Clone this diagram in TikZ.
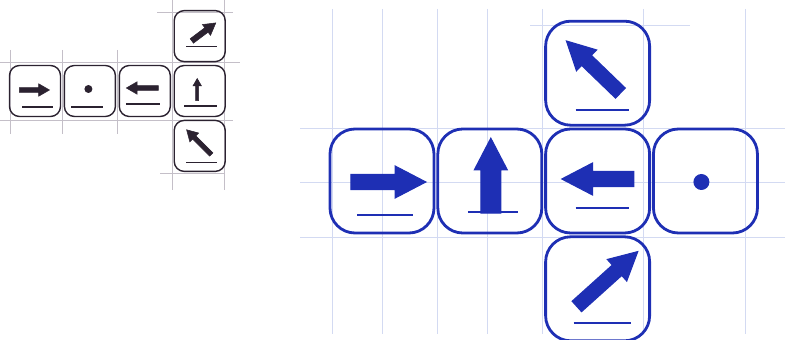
\documentclass[tikz,border=0pt]{standalone}
\usetikzlibrary{shapes.arrows, positioning}
\definecolor{InkBlue}{HTML}{1E2FB4}
\definecolor{InkDark}{HTML}{2B2230}
\definecolor{GridBlue}{HTML}{D3DAF2}
\definecolor{GridGray}{HTML}{C4BFC8}

\begin{document}
\begin{tikzpicture}[node distance=0.02cm,
        face/.style={rectangle, draw=InkBlue, line width=1.6pt, rounded corners=0.5cm, minimum size=2.08cm, inner sep=0pt},
        smallface/.style={rectangle, draw=InkDark, line width=0.8pt, rounded corners=0.2cm, minimum size=1.02cm, inner sep=0pt},
        blockarrow/.style={single arrow, draw=InkBlue, fill=InkBlue, line width=0.6pt, inner xsep=0pt, inner ysep=0.14cm, single arrow head extend=0.17cm, single arrow tip angle=55, minimum height=1.5cm, anchor=tip},
        smallarrow/.style={single arrow, draw=InkDark, fill=InkDark, line width=0.3pt, inner xsep=0pt, inner ysep=0.04cm, single arrow head extend=0.08cm, single arrow tip angle=60, minimum height=0.6cm, anchor=tip},
        bigline/.style={InkBlue, line width=1.4pt},
        smallline/.style={InkDark, line width=0.8pt},
        pip/.style={circle, fill=InkBlue, minimum size=0.32cm, inner sep=0pt},
        smallpip/.style={circle, fill=InkDark, minimum size=0.16cm, inner sep=0pt},
        gridline/.style={GridBlue, line width=0.5pt},
        pencil/.style={GridGray, line width=0.5pt}]

    \useasboundingbox (0,0) rectangle (15.7,6.78);

    % pencil guide lines
    \draw[pencil] (0,5.54) -- (4.8,5.54);
    \draw[pencil] (0,4.38) -- (4.66,4.38);
    \draw[pencil] (3.14,6.54) -- (4.66,6.54);
    \draw[pencil] (3.2,3.32) -- (4.5,3.32);
    \draw[pencil] (3.44,6.78) -- (3.44,2.98);
    \draw[pencil] (4.48,6.78) -- (4.48,2.98);
    \foreach \x in {0.2,1.24,2.34}
        \draw[pencil] (\x,5.78) -- (\x,4.1);

    % graph paper
    \foreach \y in {4.22,3.14,2.04}
        \draw[gridline] (6.0,\y) -- (15.7,\y);
    \draw[gridline] (10.6,6.28) -- (13.8,6.28);
    \foreach \x in {6.64,7.64,8.74,9.74,10.84,12.86,14.9}
        \draw[gridline] (\x,6.6) -- (\x,0.1);

    % small net
    \node[smallface] (sr) at (0.70,4.96) {};
    \node[smallface, right=0.05cm of sr] (sd) {};
    \node[smallface, right=0.05cm of sd] (sl) {};
    \node[smallface, right=0.05cm of sl] (su) {};
    \node[smallface, above=0.05cm of su] (sne) {};
    \node[smallface, below=0.05cm of su] (snw) {};

    \node[smallarrow] (sra) at ([shift={(0.30,0.02)}]sr.center) {};
    \node[smallpip] (sdp) at ([shift={(-0.03,0.04)}]sd.center) {};
    \node[smallarrow, rotate=180, minimum height=0.64cm] (sla) at ([shift={(-0.38,0.06)}]sl.center) {};
    \node[smallarrow, rotate=90, minimum height=0.44cm, inner ysep=0.025cm, single arrow head extend=0.055cm] (sua) at ([shift={(-0.05,0.26)}]su.center) {};
    \node[smallarrow, rotate=37, inner ysep=0.05cm] (snea) at ([shift={(0.33,0.27)}]sne.center) {};
    \node[smallarrow, rotate=135, minimum height=0.7cm] (snwa) at ([shift={(-0.27,0.33)}]snw.center) {};

    \draw[smallline] ([shift={(-0.26,-0.32)}]sr.center) -- ([shift={(0.36,-0.32)}]sr.center);
    \draw[smallline] ([shift={(-0.37,-0.32)}]sd.center) -- ([shift={(0.27,-0.32)}]sd.center);
    \draw[smallline] ([shift={(-0.38,-0.26)}]sl.center) -- ([shift={(0.30,-0.26)}]sl.center);
    \draw[smallline] ([shift={(-0.31,-0.30)}]su.center) -- ([shift={(0.35,-0.30)}]su.center);
    \draw[smallline] ([shift={(-0.27,-0.21)}]sne.center) -- ([shift={(0.35,-0.21)}]sne.center);
    \draw[smallline] ([shift={(-0.27,-0.33)}]snw.center) -- ([shift={(0.35,-0.33)}]snw.center);

    % large net
    \node[face] (fr) at (7.64,3.16) {};
    \node[face, right=of fr] (fu) {};
    \node[face, right=of fu] (fl) {};
    \node[face, right=of fl] (fd) {};
    \node[face, above=of fl] (fnw) {};
    \node[face, below=of fl] (fne) {};

    \node[blockarrow] (fra) at ([shift={(0.90,-0.02)}]fr.center) {};
    \node[blockarrow, rotate=90, inner ysep=0.19cm, single arrow head extend=0.13cm] (fua) at ([shift={(0.02,0.88)}]fu.center) {};
    \node[blockarrow, rotate=180, minimum height=1.44cm] (fla) at ([shift={(-0.74,0.04)}]fl.center) {};
    \node[pip] (fdp) at ([shift={(-0.08,-0.02)}]fd.center) {};
    \node[blockarrow, rotate=136, inner ysep=0.13cm, single arrow head extend=0.15cm] (fnwa) at ([shift={(-0.64,0.66)}]fnw.center) {};
    \node[blockarrow, rotate=42, inner ysep=0.13cm, single arrow head extend=0.15cm, minimum height=1.64cm] (fnea) at ([shift={(0.82,0.76)}]fne.center) {};

    \draw[bigline] ([shift={(-0.50,-0.68)}]fr.center) -- ([shift={(0.62,-0.68)}]fr.center);
    \draw[bigline] ([shift={(-0.44,-0.62)}]fu.center) -- ([shift={(0.56,-0.62)}]fu.center);
    \draw[bigline] ([shift={(-0.44,-0.54)}]fl.center) -- ([shift={(0.62,-0.54)}]fl.center);
    \draw[bigline] ([shift={(-0.44,-0.74)}]fnw.center) -- ([shift={(0.62,-0.74)}]fnw.center);
    \draw[bigline] ([shift={(-0.48,-0.68)}]fne.center) -- ([shift={(0.66,-0.68)}]fne.center);
\end{tikzpicture}
\end{document}
